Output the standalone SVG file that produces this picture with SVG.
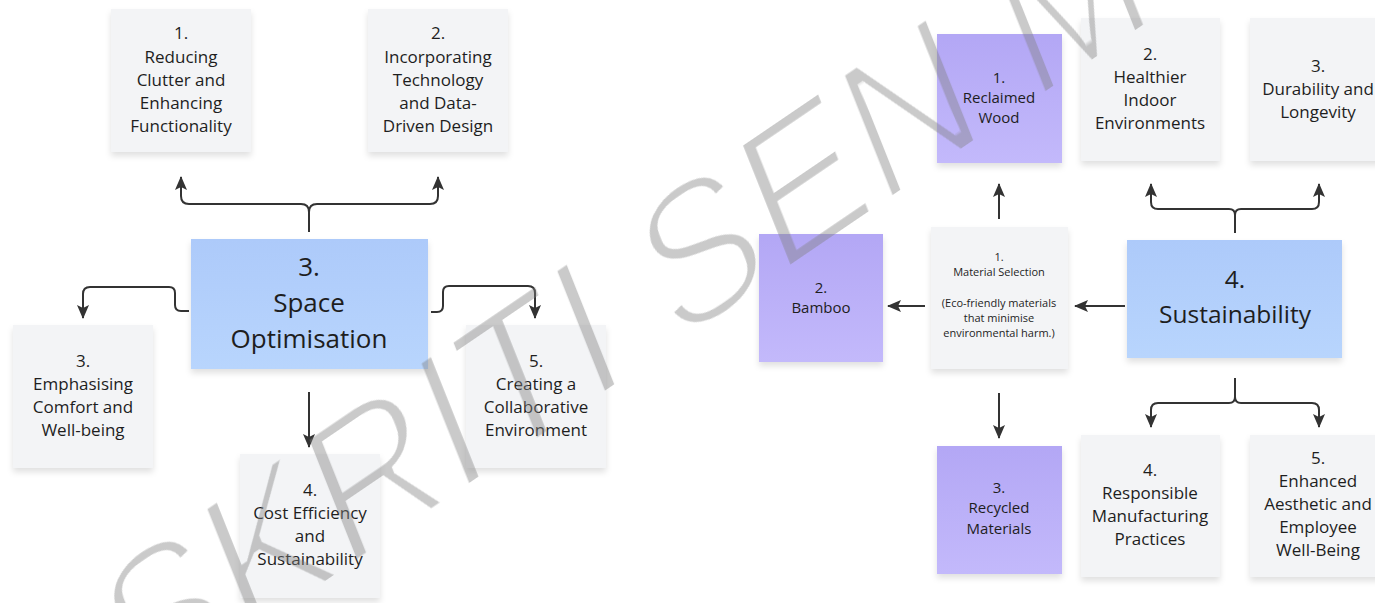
<svg xmlns="http://www.w3.org/2000/svg" width="1375" height="603" viewBox="0 0 1375 603">
  <defs>
    <linearGradient id="gBlue" x1="0" y1="0" x2="0" y2="1">
      <stop offset="0" stop-color="#adcafa"/>
      <stop offset="1" stop-color="#b8d5fd"/>
    </linearGradient>
    <linearGradient id="gPurple" x1="0" y1="0" x2="0" y2="1">
      <stop offset="0" stop-color="#b3a7f5"/>
      <stop offset="1" stop-color="#c3b9fb"/>
    </linearGradient>
    <filter id="shadow" x="-20%" y="-20%" width="140%" height="150%">
      <feDropShadow dx="0" dy="4" stdDeviation="3" flood-color="#000" flood-opacity="0.12"/>
    </filter>
    <!-- thins the watermark strokes -->
    <filter id="thin" x="-5%" y="-5%" width="110%" height="110%">
      <feMorphology operator="erode" radius="2.6"/>
    </filter>
    <marker id="arrow" viewBox="0 0 14 12" refX="13" refY="6" markerWidth="14" markerHeight="12" markerUnits="userSpaceOnUse" orient="auto">
      <path d="M0,0 L14,6 L0,12 L3,6 z" fill="#333"/>
    </marker>
  </defs>
  <style>
    .note { fill: #f3f4f6; filter: url(#shadow); }
    .blue { fill: url(#gBlue); filter: url(#shadow); }
    .purple { fill: url(#gPurple); filter: url(#shadow); }
    text { font-family: "Open Sans", "Noto Sans", "Liberation Sans", sans-serif; fill: #1e1e1e; text-anchor: middle; }
    .t17 { font-size: 17px; }
    .t15 { font-size: 15px; }
    .t11 { font-size: 11px; }
    .big { font-size: 26px; }
    .big2 { font-size: 24.5px; }
    .link { fill: none; stroke: #333; stroke-width: 2; marker-end: url(#arrow); }
    .wm { font-family: "Liberation Sans", Arial, sans-serif; font-size: 153px; fill: #808080; fill-opacity: 0.42; text-anchor: start; filter: url(#thin); }
  </style>

  <rect width="1375" height="603" fill="#ffffff"/>

  <!-- Space Optimisation map -->
  <g id="space-optimisation">
    <rect class="blue" x="191" y="239" width="237" height="130"/>
    <text class="big"><tspan x="309" y="276">3.</tspan><tspan x="309" y="312">Space</tspan><tspan x="309" y="348">Optimisation</tspan></text>
  </g>
  <g id="reducing-clutter">
    <rect class="note" x="111" y="9" width="140" height="143"/>
    <text class="t17"><tspan x="181" y="39">1.</tspan><tspan x="181" y="63">Reducing</tspan><tspan x="181" y="86">Clutter and</tspan><tspan x="181" y="109">Enhancing</tspan><tspan x="181" y="132">Functionality</tspan></text>
  </g>
  <g id="incorporating-technology">
    <rect class="note" x="368" y="9" width="140" height="143"/>
    <text class="t17"><tspan x="438" y="39">2.</tspan><tspan x="438" y="63">Incorporating</tspan><tspan x="438" y="86">Technology</tspan><tspan x="438" y="109">and Data-</tspan><tspan x="438" y="132">Driven Design</tspan></text>
  </g>
  <g id="comfort-wellbeing">
    <rect class="note" x="13" y="325" width="140" height="143"/>
    <text class="t17"><tspan x="83" y="367">3.</tspan><tspan x="83" y="390">Emphasising</tspan><tspan x="83" y="413">Comfort and</tspan><tspan x="83" y="436">Well-being</tspan></text>
  </g>
  <g id="cost-efficiency">
    <rect class="note" x="240" y="454" width="140" height="144"/>
    <text class="t17"><tspan x="310" y="496">4.</tspan><tspan x="310" y="519">Cost Efficiency</tspan><tspan x="310" y="542">and</tspan><tspan x="310" y="565">Sustainability</tspan></text>
  </g>
  <g id="collaborative-environment">
    <rect class="note" x="466" y="325" width="140" height="143"/>
    <text class="t17"><tspan x="536" y="367">5.</tspan><tspan x="536" y="390">Creating a</tspan><tspan x="536" y="413">Collaborative</tspan><tspan x="536" y="436">Environment</tspan></text>
  </g>

  <!-- Sustainability map -->
  <g id="sustainability">
    <rect class="blue" x="1127" y="240" width="215" height="118"/>
    <text class="big2"><tspan x="1235" y="288">4.</tspan><tspan x="1235" y="323">Sustainability</tspan></text>
  </g>
  <g id="material-selection">
    <rect class="note" x="931" y="227" width="137" height="142"/>
    <text class="t11"><tspan x="999" y="261">1.</tspan><tspan x="999" y="276">Material Selection</tspan><tspan x="999" y="307">(Eco-friendly materials</tspan><tspan x="999" y="322">that minimise</tspan><tspan x="999" y="337">environmental harm.)</tspan></text>
  </g>
  <g id="reclaimed-wood">
    <rect class="purple" x="937" y="34" width="125" height="129"/>
    <text class="t15"><tspan x="999" y="83">1.</tspan><tspan x="999" y="103">Reclaimed</tspan><tspan x="999" y="123">Wood</tspan></text>
  </g>
  <g id="bamboo">
    <rect class="purple" x="759" y="234" width="124" height="128"/>
    <text class="t15"><tspan x="821" y="293">2.</tspan><tspan x="821" y="313">Bamboo</tspan></text>
  </g>
  <g id="recycled-materials">
    <rect class="purple" x="937" y="446" width="125" height="128"/>
    <text class="t15"><tspan x="999" y="493">3.</tspan><tspan x="999" y="513">Recycled</tspan><tspan x="999" y="534">Materials</tspan></text>
  </g>
  <g id="healthier-indoor">
    <rect class="note" x="1081" y="18" width="139" height="143"/>
    <text class="t17"><tspan x="1150" y="60">2.</tspan><tspan x="1150" y="83">Healthier</tspan><tspan x="1150" y="106">Indoor</tspan><tspan x="1150" y="129">Environments</tspan></text>
  </g>
  <g id="durability">
    <rect class="note" x="1250" y="18" width="140" height="143"/>
    <text class="t17"><tspan x="1318" y="72">3.</tspan><tspan x="1318" y="95">Durability and</tspan><tspan x="1318" y="118">Longevity</tspan></text>
  </g>
  <g id="responsible-manufacturing">
    <rect class="note" x="1081" y="435" width="139" height="142"/>
    <text class="t17"><tspan x="1150" y="476">4.</tspan><tspan x="1150" y="499">Responsible</tspan><tspan x="1150" y="522">Manufacturing</tspan><tspan x="1150" y="545">Practices</tspan></text>
  </g>
  <g id="aesthetic-wellbeing">
    <rect class="note" x="1250" y="435" width="140" height="142"/>
    <text class="t17"><tspan x="1318" y="464">5.</tspan><tspan x="1318" y="487">Enhanced</tspan><tspan x="1318" y="510">Aesthetic and</tspan><tspan x="1318" y="533">Employee</tspan><tspan x="1318" y="556">Well-Being</tspan></text>
  </g>

  <!-- connectors -->
  <g id="connectors">
    <path class="link" d="M309 232 V212 Q309 204 301 204 H189 Q181 204 181 196 V177"/>
    <path class="link" d="M309 232 V212 Q309 204 317 204 H430 Q438 204 438 196 V177"/>
    <path class="link" d="M189 311 H181 Q175 311 175 305 V293 Q175 287 169 287 H90 Q83 287 83 294 V318"/>
    <path class="link" d="M431 312 H437 Q443 312 443 306 V292 Q443 286 449 286 H528 Q535 286 535 293 V318"/>
    <path class="link" d="M309 392 V447"/>

    <path class="link" d="M999 219 V184"/>
    <path class="link" d="M925 306 H888"/>
    <path class="link" d="M1125 306 H1075"/>
    <path class="link" d="M999 393 V438"/>
    <path class="link" d="M1235 233 V215 Q1235 209 1229 209 H1158 Q1151 209 1151 202 V184"/>
    <path class="link" d="M1235 233 V215 Q1235 209 1241 209 H1312 Q1319 209 1319 202 V184"/>
    <path class="link" d="M1235 378 V397 Q1235 403 1229 403 H1158 Q1151 403 1151 410 V427"/>
    <path class="link" d="M1235 378 V397 Q1235 403 1241 403 H1312 Q1319 403 1319 410 V427"/>
  </g>

  <!-- watermark -->
  <text class="wm" transform="matrix(1.0 -0.68 0.47 1.18 139 711)">SKRITI SEN M</text>
</svg>
